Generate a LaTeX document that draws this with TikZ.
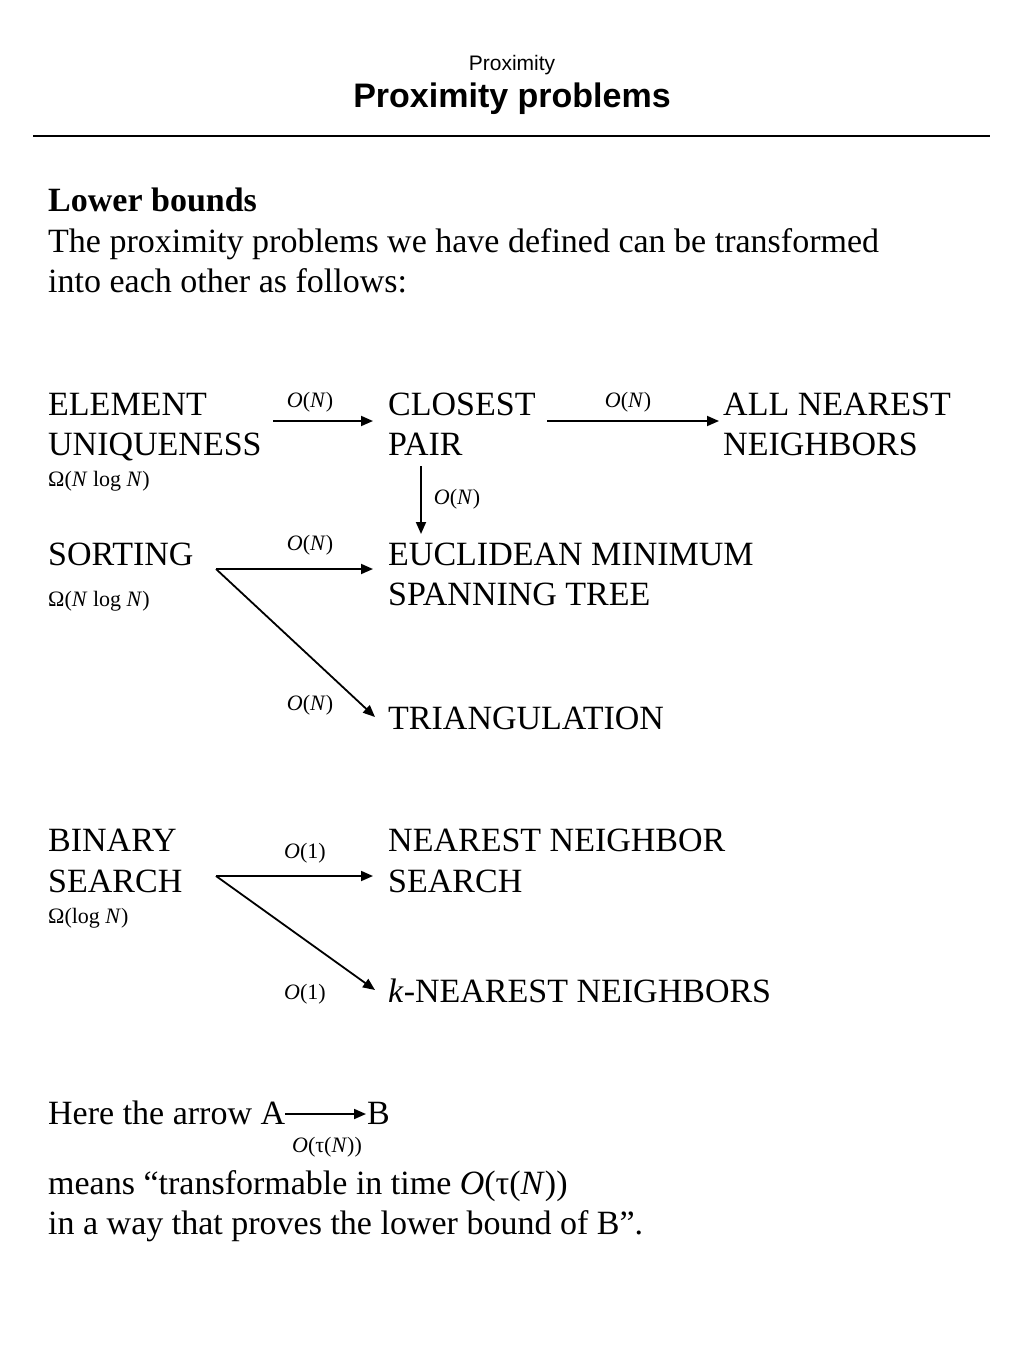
\documentclass[tikz,border=0pt]{standalone}
\usepackage{fontspec}
\setmainfont{Liberation Serif}
\newfontfamily\titlefont{Liberation Sans}
\usetikzlibrary{arrows.meta}
\begin{document}
\begin{tikzpicture}[x=1pt,y=-1pt,
  txt/.style={anchor=base west,inner sep=0pt,font=\fontsize{34}{41}\selectfont},
  sm/.style={inner sep=0pt,font=\fontsize{22}{26}\selectfont},
  arr/.style={line width=1.8pt,-{Triangle[length=12pt,width=10pt]}}]
\useasboundingbox (0,0) rectangle (1024,1365);
% title
\node[inner sep=0pt,anchor=base,font=\titlefont\fontsize{21}{24}\selectfont] (t1) at (512,70) {Proximity};
\node[inner sep=0pt,anchor=base,font=\titlefont\bfseries\fontsize{34}{38}\selectfont] (t2) at (512,107) {Proximity problems};
\coordinate (r1) at (33,136);
\coordinate (r2) at (990,136);
\draw[line width=2pt] (r1) -- (r2);
% intro
\node[txt] (lb) at (48,211) {\bfseries Lower bounds};
\node[txt] (intro1) at (48,252) {The proximity problems we have defined can be transformed};
\node[txt] (intro2) at (48,292) {into each other as follows:};
% row 1
\node[txt] (eu1) at (48,415) {ELEMENT};
\node[txt] (eu2) at (48,455) {UNIQUENESS};
\node[sm,anchor=base west] (eul) at (48,486) {Ω(\textit{N} log \textit{N})};
\node[txt] (cp1) at (388,415) {CLOSEST};
\node[txt] (cp2) at (388,455) {PAIR};
\node[txt] (ann1) at (723,415) {ALL NEAREST};
\node[txt] (ann2) at (723,455) {NEIGHBORS};
\coordinate (a1s) at (273,421); \coordinate (a1e) at (373,421);
\draw[arr] (a1s) -- (a1e);
\node[sm] (l1) at (310,402) {\textit{O}(\textit{N})};
\coordinate (a2s) at (547,421); \coordinate (a2e) at (719,421);
\draw[arr] (a2s) -- (a2e);
\node[sm] (l2) at (628,402) {\textit{O}(\textit{N})};
\coordinate (a3s) at (421,466); \coordinate (a3e) at (421,534);
\draw[arr] (a3s) -- (a3e);
\node[sm] (l3) at (457,499) {\textit{O}(\textit{N})};
% row 2
\node[txt] (so) at (48,565) {SORTING};
\node[sm,anchor=base west] (sol) at (48,606) {Ω(\textit{N} log \textit{N})};
\node[txt] (emst1) at (388,565) {EUCLIDEAN MINIMUM};
\node[txt] (emst2) at (388,605) {SPANNING TREE};
\node[txt] (tri) at (388,729) {TRIANGULATION};
\coordinate (b0) at (216,569);
\coordinate (b1) at (373,569);
\coordinate (b2) at (375,717);
\draw[arr] (b0) -- (b1);
\draw[arr] (b0) -- (b2);
\node[sm] (l4) at (310,545) {\textit{O}(\textit{N})};
\node[sm] (l5) at (310,705) {\textit{O}(\textit{N})};
% row 3
\node[txt] (bs1) at (48,851) {BINARY};
\node[txt] (bs2) at (48,892) {SEARCH};
\node[sm,anchor=base west] (bsl) at (48,923) {Ω(log \textit{N})};
\node[txt] (nns1) at (388,851) {NEAREST NEIGHBOR};
\node[txt] (nns2) at (388,892) {SEARCH};
\node[txt] (knn) at (388,1002) {\textit{k}-NEAREST NEIGHBORS};
\coordinate (c0) at (216,876);
\coordinate (c1) at (373,876);
\coordinate (c2) at (375,990);
\draw[arr] (c0) -- (c1);
\draw[arr] (c0) -- (c2);
\node[sm] (l6) at (305,853) {\textit{O}(1)};
\node[sm] (l7) at (305,994) {\textit{O}(1)};
% legend
\node[txt] (here) at (48,1124) {Here the arrow A};
\node[txt] (hb) at (367,1124) {B};
\path (here.base east) ++(0,-10) coordinate (ds);
\path (hb.base west) ++(-1,-10) coordinate (de);
\draw[arr] (ds) -- (de);
\node[sm] (l8) at (327,1147) {\textit{O}(τ(\textit{N}))};
\node[txt] (means1) at (48,1194) {means “transformable in time \textit{O}(τ(\textit{N}))};
\node[txt] (means2) at (48,1234) {in a way that proves the lower bound of B”.};
\end{tikzpicture}
\end{document}
